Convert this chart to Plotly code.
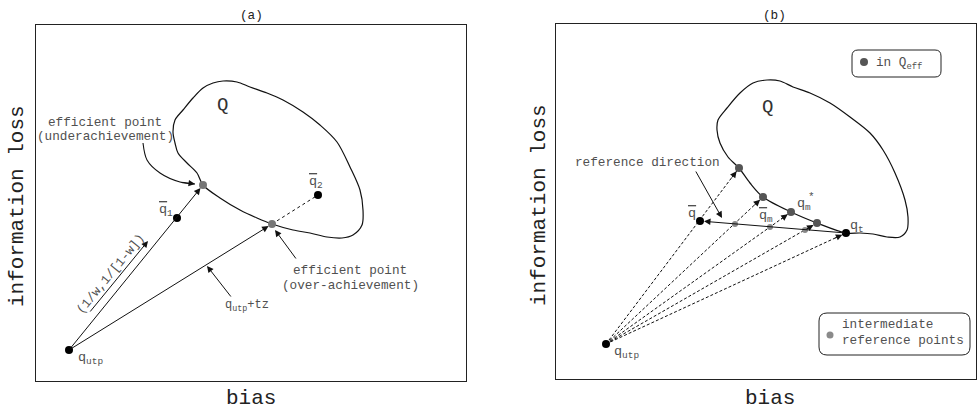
import math
import plotly.graph_objects as go

FONT = "Liberation Mono, Courier New, monospace"
INK = "#111111"
TXT = "#505050"
W, H = 977, 414

# ---------------- panel (a) ----------------
# outline of the attainable region Q (bias, information loss)
a_region_bias = [167, 161, 151, 142, 139, 137, 139, 147, 157, 167, 177, 187, 201, 214,
                 231, 247, 267, 284, 301, 314, 324, 327, 326, 317, 306, 291, 274, 257,
                 236, 221, 204, 184, 167]
a_region_loss = [196, 208, 218, 228, 238, 249, 261, 271, 283, 293, 298, 300, 299, 294,
                 288, 281, 269, 256, 239, 214, 191, 171, 156, 146, 143, 144, 148, 151,
                 157, 163, 171, 183, 196]
a_utp = [33, 31]          # utopia point
a_q1 = [141, 163]         # reference point q1 (outside Q)
a_q2 = [282, 186]         # reference point q2 (inside Q)
a_under = [167, 196]      # efficient point, underachievement
a_over = [236, 157]       # efficient point, over-achievement
a_weight_from = [53, 68]  # weight vector (1/w, 1/[1-w])
a_weight_to = [112, 140]
a_hook_bias = [107, 111, 124, 144, 159]   # curved pointer to the underachievement point
a_hook_loss = [238, 221, 208, 199, 197]

# ---------------- panel (b) ----------------
b_region_bias = [183, 172, 164, 161, 162, 171, 184, 197, 211, 224, 237, 254, 274, 294,
                 314, 327, 339, 349, 352, 351, 344, 331, 317, 304, 290, 261, 235, 207,
                 194, 183]
b_region_loss = [211, 222, 236, 249, 259, 271, 286, 296, 299, 298, 292, 286, 276, 262,
                 246, 229, 206, 179, 162, 149, 142, 142, 145, 146, 146, 156, 167, 182,
                 196, 211]
b_utp = [50, 35]
b_qbar = [144, 158]
b_qt = [290, 146]
b_eff_bias = [183, 207, 235, 261]   # points in Q_eff
b_eff_loss = [211, 182, 167, 156]
b_mid_bias = [179, 214, 249]        # intermediate reference points
b_mid_loss = [155, 152, 149]

fig = go.Figure()


def line(xs, ys, ax, dash="solid", shape="linear", width=1.1, color=INK):
    fig.add_trace(go.Scatter(x=xs, y=ys, mode="lines", xaxis=ax[0], yaxis=ax[1],
                             line=dict(color=color, width=width, dash=dash, shape=shape,
                                       smoothing=0.9),
                             hoverinfo="skip"))


def dots(xs, ys, ax, color, size=8):
    fig.add_trace(go.Scatter(x=xs, y=ys, mode="markers", xaxis=ax[0], yaxis=ax[1],
                             marker=dict(color=color, size=size, line=dict(width=0)),
                             hoverinfo="skip"))


annotations = []


def arrow(tip, tail, ax, standoff=0, size=1.3):
    annotations.append(dict(x=tip[0], y=tip[1], ax=tail[0], ay=tail[1],
                            xref=ax[0], yref=ax[1], axref=ax[0], ayref=ax[1],
                            text="", showarrow=True, arrowhead=2, arrowsize=size,
                            arrowwidth=1, arrowcolor=INK, standoff=standoff))


def head(tip, origin, ax, standoff=4):
    # arrowhead only, oriented along origin -> tip
    dx, dy = tip[0] - origin[0], tip[1] - origin[1]
    n = math.hypot(dx, dy)
    tail = [tip[0] - 14 * dx / n, tip[1] - 14 * dy / n]
    arrow(tip, tail, ax, standoff=standoff)


def label(text, x, y, ax, size=12.7, anchor="center", color=TXT, angle=0):
    annotations.append(dict(x=x, y=y, xref=ax[0], yref=ax[1], text=text,
                            showarrow=False, xanchor=anchor, yanchor="middle",
                            textangle=angle,
                            font=dict(family=FONT, size=size, color=color)))


def bar(s):
    return '<span style="text-decoration:overline">' + s + '</span>'


A = ("x", "y")
B = ("x2", "y2")

# ----- panel (a) drawing -----
line(a_region_bias, a_region_loss, A, shape="spline", width=1.2)
line([a_over[0], a_q2[0]], [a_over[1], a_q2[1]], A, dash="dot", width=1)
line(a_hook_bias, a_hook_loss, A, shape="spline", width=1.1)
arrow(a_under, a_utp, A, standoff=4)
arrow(a_over, a_utp, A, standoff=4)
arrow(a_weight_to, a_weight_from, A)
head([a_hook_bias[-1], a_hook_loss[-1]], [a_hook_bias[-2], a_hook_loss[-2]], A, standoff=0)
arrow([239, 151], [261, 121], A)
arrow([171, 115], [196, 83], A)
dots([a_utp[0], a_q1[0], a_q2[0]], [a_utp[1], a_q1[1], a_q2[1]], A, "#000000")
dots([a_under[0], a_over[0]], [a_under[1], a_over[1]], A, "#777777")

label("Q", 186, 276, A, size=19, color="#333")
label("efficient point", 69, 259, A)
label("(underachievement)", 69, 245, A)
label("efficient point", 314, 111, A)
label("(over-achievement)", 314, 96, A)
label("q<sub>utp</sub>+tz", 211, 75, A, size=12)
label("q<sub>utp</sub>", 40, 23, A, size=13.5, anchor="left")
label(bar("q") + "<sub>1</sub>", 121, 171, A, size=13.5, anchor="left")
label(bar("q") + "<sub>2</sub>", 271, 199, A, size=13.5, anchor="left")
label("(1/w,1/[1-w])", 74, 107, A, angle=-50.7)

# ----- panel (b) drawing -----
line(b_region_bias, b_region_loss, B, shape="spline", width=1.2)
dx, dy = [], []
for tx, ty in list(zip(b_eff_bias, b_eff_loss)) + [tuple(b_qt)]:
    dx += [b_utp[0], tx, None]
    dy += [b_utp[1], ty, None]
    head([tx, ty], b_utp, B)
line(dx, dy, B, dash="3px,2px", width=1)
arrow(b_qbar, b_qt, B, standoff=4)
arrow([166, 161], [139, 209], B)
dots(b_mid_bias, b_mid_loss, B, "#8a8a8a", size=6)
dots(b_eff_bias, b_eff_loss, B, "#555555")
dots([b_utp[0], b_qbar[0], b_qt[0]], [b_utp[1], b_qbar[1], b_qt[1]], B, "#000000")

label("Q", 211, 272, B, size=19, color="#333")
label("reference direction", 91, 217, B)
label(bar("q"), 130, 166, B, size=13.5, anchor="left")
label(bar("q") + "<sub>m</sub>", 201, 163, B, size=13.5, anchor="left")
label("q<sub>m</sub>", 239, 175, B, size=13.5, anchor="left")
label("*", 250, 182, B, size=11, anchor="left")
label("q<sub>t</sub>", 292, 153, B, size=13.5, anchor="left")
label("q<sub>utp</sub>", 56, 27, B, size=13.5, anchor="left")

# legend boxes
def rounded(x0, y0, x1, y1, r):
    return (f"M{x0 + r},{y0} L{x1 - r},{y0} Q{x1},{y0} {x1},{y0 + r} "
            f"L{x1},{y1 - r} Q{x1},{y1} {x1 - r},{y1} L{x0 + r},{y1} "
            f"Q{x0},{y1} {x0},{y1 - r} L{x0},{y0 + r} Q{x0},{y0} {x0 + r},{y0} Z")


shapes = [
    dict(type="path", xref="x2", yref="y2", path=rounded(296, 302, 385, 329, 6),
         line=dict(color="#222", width=1)),
    dict(type="path", xref="x2", yref="y2", path=rounded(263, 24, 414, 66, 8),
         line=dict(color="#222", width=1)),
]
dots([308], [317], B, "#555555")
label("in Q<sub>eff</sub>", 318, 316, B, anchor="left")
dots([274], [44], B, "#8a8a8a", size=7)
label("intermediate", 284, 55, B, anchor="left")
label("reference points", 284, 39, B, anchor="left")

# panel titles and axis names
for txt, px, py, sz, ang in [("(a)", 251, 15, 12.7, 0), ("(b)", 774, 15, 12.7, 0),
                             ("bias", 251, 398, 21, 0), ("bias", 770, 398, 21, 0),
                             ("information loss", 17, 206, 21, -90),
                             ("information loss", 539, 205, 21, -90)]:
    annotations.append(dict(x=px / W, y=1 - py / H, xref="paper", yref="paper",
                            text=txt, showarrow=False, textangle=ang,
                            xanchor="center", yanchor="middle",
                            font=dict(family=FONT, size=sz, color="#222")))

axis_common = dict(showline=True, mirror=True, linecolor="#222", linewidth=1,
                   showticklabels=False, ticks="", showgrid=False, zeroline=False,
                   fixedrange=True)

fig.update_layout(
    width=W, height=H, margin=dict(l=0, r=0, t=0, b=0),
    paper_bgcolor="white", plot_bgcolor="white", showlegend=False,
    xaxis=dict(domain=[36 / W, 466 / W], range=[0, 430], anchor="y", **axis_common),
    yaxis=dict(domain=[1 - 381 / H, 1 - 25 / H], range=[0, 356], anchor="x", **axis_common),
    xaxis2=dict(domain=[556 / W, 976 / W], range=[0, 420], anchor="y2", **axis_common),
    yaxis2=dict(domain=[1 - 379 / H, 1 - 24 / H], range=[0, 355], anchor="x2", **axis_common),
    annotations=annotations,
    shapes=shapes,
)

fig.write_html("out.html")
